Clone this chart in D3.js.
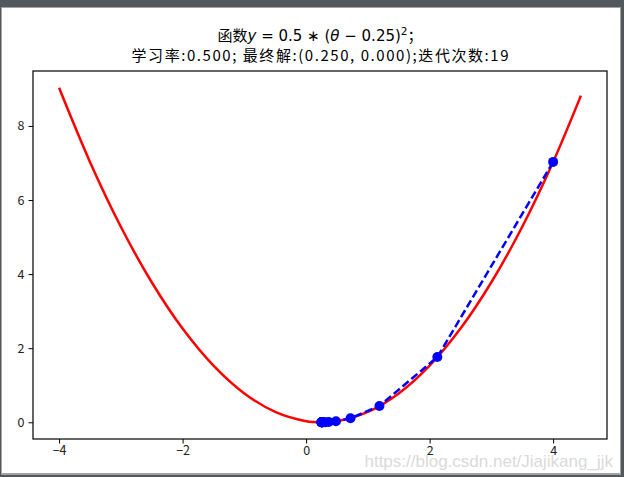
<!DOCTYPE html>
<html>
<head>
<meta charset="utf-8">
<script src="https://cdn.jsdelivr.net/npm/d3@7"></script>
<style>
  body { margin: 0; background: #52585c; }
  svg text { font-family: "Noto Sans CJK SC", "DejaVu Sans", sans-serif; }
</style>
</head>
<body>
<script>
// curve y = 0.5*(theta-0.25)^2
var curveX = [-4, -3.5, -3, -2.5, -2, -1.5, -1, -0.5, 0, 0.25, 0.5, 1, 1.5, 2, 2.5, 3, 3.5, 4, 4.45];
var curveY = [9.03, 7.03, 5.28, 3.78, 2.53, 1.53, 0.78, 0.28, 0.03, 0, 0.03, 0.28, 0.78, 1.53, 2.53, 3.78, 5.28, 7.03, 8.82];

// gradient descent steps
var stepX = [4, 2.125, 1.1875, 0.719, 0.484, 0.367, 0.309, 0.279, 0.265, 0.257, 0.254, 0.252, 0.251, 0.2505, 0.2502, 0.2501, 0.25, 0.25, 0.25, 0.25];
var stepY = [7.03, 1.76, 0.44, 0.11, 0.027, 0.007, 0.002, 0.0005, 0, 0, 0, 0, 0, 0, 0, 0, 0, 0, 0, 0];

var xTicks = [-4, -2, 0, 2, 4];
var yTicks = [0, 2, 4, 6, 8];

var svgWidth = 624;
var svgHeight = 477;

var margin = { top: 71, right: 17, bottom: 38, left: 33 };
var width = svgWidth - margin.left - margin.right;
var height = svgHeight - margin.top - margin.bottom;

var svg = d3.select("body")
  .append("svg")
  .attr("width", svgWidth)
  .attr("height", svgHeight)
  .style("display", "block");

// screenshot frame
svg.append("rect").attr("x", 0).attr("y", 0).attr("width", svgWidth).attr("height", svgHeight).attr("fill", "#52585c");
svg.append("rect").attr("x", 1).attr("y", 7).attr("width", 620).attr("height", 468).attr("fill", "#a3a3a3");
svg.append("rect").attr("x", 2).attr("y", 8).attr("width", 618).attr("height", 465).attr("fill", "#ffffff");

var chartGroup = svg.append("g")
  .attr("transform", `translate(${margin.left}, ${margin.top})`);

var xScale = d3.scaleLinear()
  .domain([-4.4225, 4.8725])
  .range([0, width]);

var yScale = d3.scaleLinear()
  .domain([-0.4516, 9.4841])
  .range([height, 0]);

var bottomAxis = d3.axisBottom(xScale)
  .tickValues(xTicks)
  .tickSize(4.5)
  .tickPadding(3)
  .tickFormat(d => String(d).replace("-", "\u2212"));

var leftAxis = d3.axisLeft(yScale)
  .tickValues(yTicks)
  .tickSize(4.5)
  .tickPadding(4);

var xAxis = chartGroup.append("g")
  .attr("transform", `translate(0, ${height})`)
  .call(bottomAxis);

var yAxis = chartGroup.append("g")
  .call(leftAxis);

[xAxis, yAxis].forEach(function(ax) {
  ax.select(".domain").remove();
  ax.selectAll(".tick line").attr("stroke", "#000").attr("stroke-width", 1);
  ax.selectAll(".tick text")
    .attr("fill", "#222")
    .style("font-size", "12.5px");
});

// red curve
var curveData = curveX.map((x, i) => [x, curveY[i]]);
var line = d3.line()
  .x(d => xScale(d[0]))
  .y(d => yScale(d[1]))
  .curve(d3.curveCatmullRom);

chartGroup.append("path")
  .datum(curveData)
  .attr("d", line)
  .attr("fill", "none")
  .attr("stroke", "#ff0000")
  .attr("stroke-width", 2.5);

// blue dashed path with markers
var stepData = stepX.map((x, i) => [x, stepY[i]]);
chartGroup.append("path")
  .datum(stepData)
  .attr("d", d3.line().x(d => xScale(d[0])).y(d => yScale(d[1])))
  .attr("fill", "none")
  .attr("stroke", "#0000ff")
  .attr("stroke-width", 2.5)
  .attr("stroke-dasharray", "8,3.5");

chartGroup.selectAll("circle")
  .data(stepData)
  .enter()
  .append("circle")
  .attr("cx", d => xScale(d[0]))
  .attr("cy", d => yScale(d[1]))
  .attr("r", 5)
  .attr("fill", "#0000ff");

// frame
chartGroup.append("rect")
  .attr("width", width)
  .attr("height", height)
  .attr("fill", "none")
  .attr("stroke", "#000")
  .attr("stroke-width", 1.2);

// title
var cx = margin.left + width / 2;
var t1 = svg.append("text")
  .attr("x", cx)
  .attr("y", 41)
  .attr("text-anchor", "middle")
  .style("font-size", "15px")
  .attr("fill", "#000");
t1.append("tspan").text("函数");
t1.append("tspan").style("font-family", "DejaVu Sans").style("font-style", "italic").text("y");
t1.append("tspan").style("font-family", "DejaVu Sans").text(" = 0.5 \u2217 (");
t1.append("tspan").style("font-family", "DejaVu Sans").style("font-style", "italic").text("\u03b8");
t1.append("tspan").style("font-family", "DejaVu Sans").text(" \u2212 0.25)");
t1.append("tspan").style("font-family", "DejaVu Sans").style("font-size", "10.5px").attr("dy", -6).text("2");
t1.append("tspan").attr("dy", 6).text("；");

svg.append("text")
  .attr("x", cx)
  .attr("y", 61)
  .attr("text-anchor", "middle")
  .attr("textLength", 377)
  .attr("lengthAdjust", "spacing")
  .style("font-size", "15px")
  .attr("fill", "#000")
  .text("学习率:0.500; 最终解:(0.250, 0.000);迭代次数:19");

// watermark
svg.append("text")
  .attr("x", 613)
  .attr("y", 467)
  .attr("text-anchor", "end")
  .style("font-family", "Liberation Sans, sans-serif")
  .style("font-size", "17px")
  .attr("fill", "#dadada")
  .text("https://blog.csdn.net/Jiajikang_jjk");
</script>
</body>
</html>
